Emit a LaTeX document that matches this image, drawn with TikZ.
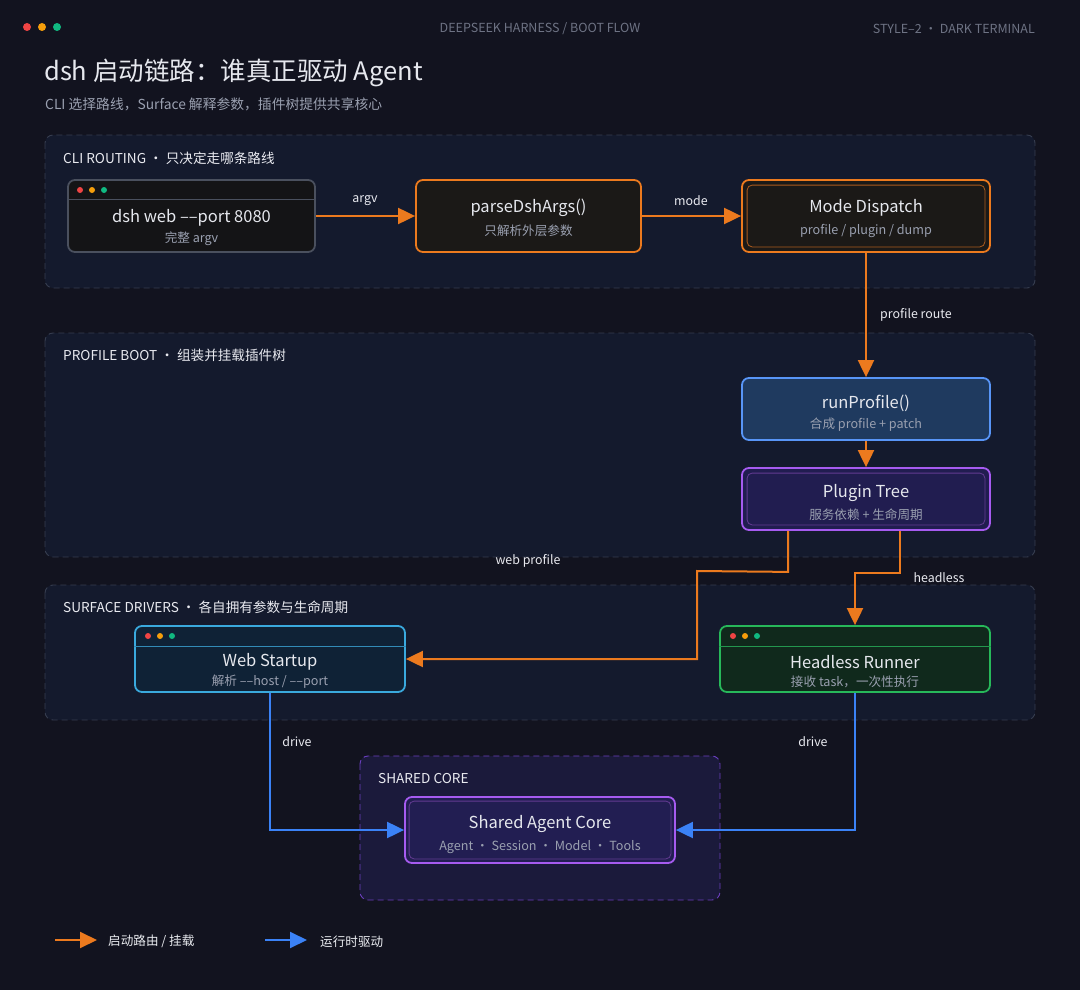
\documentclass[tikz,border=0pt]{standalone}
\usepackage{fontspec}
\setmainfont{Noto Sans CJK SC}
\usetikzlibrary{arrows.meta,calc}
\definecolor{bg}{HTML}{12131F}
\definecolor{grpfill}{HTML}{141A2D}
\definecolor{grpline}{HTML}{363D4F}
\definecolor{orng}{HTML}{EC7A1E}
\definecolor{blu}{HTML}{3B82F6}
\definecolor{purp}{HTML}{A65BF0}
\definecolor{cyanb}{HTML}{3AA9DD}
\definecolor{grn}{HTML}{27B85A}
\definecolor{txt}{HTML}{E6E8EE}
\definecolor{subt}{HTML}{9AA0B0}
\definecolor{dimt}{HTML}{6E7384}
\definecolor{dred}{HTML}{EF4444}
\definecolor{dyel}{HTML}{F59E0B}
\definecolor{dgrn}{HTML}{10B981}
\definecolor{rpfill}{HTML}{1F3A5F}
\definecolor{ptfill}{HTML}{211D50}
\definecolor{wsfill}{HTML}{0F2236}
\definecolor{hrfill}{HTML}{10291C}
\definecolor{scfill}{HTML}{221E52}
\definecolor{ofill}{HTML}{1B1917}
\definecolor{tfill}{HTML}{141416}
\definecolor{tline}{HTML}{4A505E}
\definecolor{corefill}{HTML}{1B1A3B}
\definecolor{coreline}{HTML}{6B3FC0}
\begin{document}
\begin{tikzpicture}[x=1pt,y=-1pt,
  grp/.style={draw=grpline,fill=grpfill,dash pattern=on 6pt off 4pt,line width=0.9pt,rounded corners=8pt},
  grplabel/.style={anchor=west,text=txt!90,font=\fontsize{13.6}{15}\selectfont,inner sep=0pt,yshift=-1.5pt},
  boxx/.style={rounded corners=7pt,line width=1.8pt,inner sep=0pt},
  ttl/.style={text=txt,font=\fontsize{16.5}{18}\selectfont,inner sep=0pt,yshift=-2pt},
  sub/.style={text=subt,font=\fontsize{12.6}{14}\selectfont,inner sep=0pt,yshift=-1.5pt},
  elab/.style={text=txt!90,font=\fontsize{12.4}{14}\selectfont,inner sep=0pt,yshift=-1.5pt},
  oarrow/.style={draw=orng,line width=2pt,-{Triangle[length=17pt,width=16pt]}},
  barrow/.style={draw=blu,line width=2pt,-{Triangle[length=17pt,width=16pt]}},
  dot/.style={circle,inner sep=0pt,minimum size=#1},
]
\fill[bg] (0,0) rectangle (1080,990);
\useasboundingbox (0,0) rectangle (1080,990);
% header
\node[dot=8pt,fill=dred] (h1) at (27,27) {};
\node[dot=8pt,fill=dyel] (h2) at (42,27) {};
\node[dot=8pt,fill=dgrn] (h3) at (57,27) {};
\node[text=dimt,font=\fontsize{12.5}{13}\selectfont,yshift=-1.5pt] (hc) at (540,27) {DEEPSEEK HARNESS / BOOT FLOW};
\node[text=dimt,font=\fontsize{12.5}{13}\selectfont,anchor=east,inner sep=0pt,yshift=-1.5pt] (hr0) at (1035,27) {STYLE–2 · DARK TERMINAL};
\node[anchor=west,inner sep=0pt,text=txt,font=\fontsize{25.5}{28}\selectfont,yshift=-3pt] (title) at (44,70) {dsh 启动链路：谁真正驱动 Agent};
\node[anchor=west,inner sep=0pt,text=subt,font=\fontsize{13.8}{15}\selectfont,yshift=-1.5pt] (subtitle) at (45,103) {CLI 选择路线，Surface 解释参数，插件树提供共享核心};
% groups
\draw[grp] (45,135) rectangle (1035,288);
\node[grplabel] (g1) at (63,157) {CLI ROUTING · 只决定走哪条路线};
\draw[grp] (45,333) rectangle (1035,557);
\node[grplabel] (g2) at (63,354) {PROFILE BOOT · 组装并挂载插件树};
\draw[grp] (45,585) rectangle (1035,720);
\node[grplabel] (g3) at (63,606) {SURFACE DRIVERS · 各自拥有参数与生命周期};
\draw[grp,draw=coreline,fill=corefill] (360,756) rectangle (720,900);
\node[grplabel] (g4) at (378,777) {SHARED CORE};
% dsh web terminal
\node[boxx,draw=tline,fill=tfill,minimum width=247pt,minimum height=72pt] (dsh) at (191.5,216) {};
\draw[tline,line width=0.8pt] (dsh.west |- 0,199) -- (dsh.east |- 0,199);
\node[dot=6pt,fill=dred] (d1) at (80,190) {};
\node[dot=6pt,fill=dyel] (d2) at (92,190) {};
\node[dot=6pt,fill=dgrn] (d3) at (104,190) {};
\node[ttl] (dsht) at (191.5,216) {dsh web ––port 8080};
\node[sub] (dshs) at (191.5,237) {完整 argv};
% parseDshArgs
\node[boxx,draw=orng,fill=ofill,minimum width=225pt,minimum height=72pt] (pa) at (528.5,216) {};
\node[ttl] (pat) at (528.5,206) {parseDshArgs()};
\node[sub] (pas) at (528.5,229) {只解析外层参数};
% Mode Dispatch
\node[boxx,draw=orng,fill=ofill,minimum width=248pt,minimum height=72pt] (md) at (866,216) {};
\draw[orng!70!bg,line width=0.8pt,rounded corners=5pt] ($(md.north west)+(6,6)$) rectangle ($(md.south east)+(-6,-6)$);
\node[ttl] (mdt) at (866,206) {Mode Dispatch};
\node[sub] (mds) at (866,229) {profile / plugin / dump};
% runProfile
\node[boxx,draw=blu!85!white,fill=rpfill,minimum width=248pt,minimum height=62pt] (rp) at (866,409) {};
\node[ttl] (rpt) at (866,401) {runProfile()};
\node[sub] (rps) at (866,423) {合成 profile + patch};
% Plugin Tree
\node[boxx,draw=purp,fill=ptfill,minimum width=248pt,minimum height=62pt] (pt) at (866,499) {};
\draw[purp!55!bg,line width=0.8pt,rounded corners=5pt] ($(pt.north west)+(6,6)$) rectangle ($(pt.south east)+(-6,-6)$);
\node[ttl] (ptt) at (866,491) {Plugin Tree};
\node[sub] (pts) at (866,513) {服务依赖 + 生命周期};
% Web Startup
\node[boxx,draw=cyanb,fill=wsfill,minimum width=270pt,minimum height=66pt] (ws) at (270,659) {};
\draw[cyanb!80!bg,line width=0.8pt] (ws.west |- 0,646) -- (ws.east |- 0,646);
\node[dot=6pt,fill=dred] (w1) at (148,636) {};
\node[dot=6pt,fill=dyel] (w2) at (160,636) {};
\node[dot=6pt,fill=dgrn] (w3) at (172,636) {};
\node[ttl] (wst) at (270,660) {Web Startup};
\node[sub] (wss) at (270,680) {解析 ––host / ––port};
% Headless Runner
\node[boxx,draw=grn,fill=hrfill,minimum width=270pt,minimum height=66pt] (hr) at (855,659) {};
\draw[grn!80!bg,line width=0.8pt] (hr.west |- 0,646) -- (hr.east |- 0,646);
\node[dot=6pt,fill=dred] (r1) at (733,636) {};
\node[dot=6pt,fill=dyel] (r2) at (745,636) {};
\node[dot=6pt,fill=dgrn] (r3) at (757,636) {};
\node[ttl] (hrt) at (855,660) {Headless Runner};
\node[sub] (hrs) at (855,680) {接收 task，一次性执行};
% Shared Agent Core
\node[boxx,draw=purp,fill=scfill,minimum width=270pt,minimum height=66pt] (sc) at (540,830) {};
\draw[purp!55!bg,line width=0.8pt,rounded corners=5pt] ($(sc.north west)+(5,5)$) rectangle ($(sc.south east)+(-5,-5)$);
\node[ttl] (sct) at (540,822) {Shared Agent Core};
\node[sub] (scs) at (540,846) {Agent · Session · Model · Tools};
% connectors
\draw[oarrow] (dsh.east) -- (pa.west);
\node[elab] (l1) at (365,199) {argv};
\draw[oarrow] (pa.east) -- (md.west);
\node[elab] (l2) at (691,199) {mode};
\draw[oarrow] (md.south) -- (rp.north);
\node[elab,anchor=west] (l3) at (880,313) {profile route};
\draw[oarrow] (rp.south) -- (pt.north);
\draw[oarrow] ([xshift=-78pt]pt.south) -- ++(0,41) -- (697,571) |- (ws.east);
\node[elab] (l4) at (528,559) {web profile};
\draw[oarrow] ([xshift=34pt]pt.south) -- ++(0,42) -| (hr.north);
\node[elab] (l5) at (939,576) {headless};
\draw[barrow] (ws.south) |- (sc.west);
\node[elab] (l6) at (297,740) {drive};
\draw[barrow] (hr.south) |- (sc.east);
\node[elab] (l7) at (813,740) {drive};
% legend
\coordinate (lo1) at (55,940);
\coordinate (lo2) at (97,940);
\draw[oarrow] (lo1) -- (lo2);
\node[sub,anchor=west,text=txt!80] (lt1) at (108,940) {启动路由 / 挂载};
\coordinate (lb1) at (265,940);
\coordinate (lb2) at (307,940);
\draw[barrow] (lb1) -- (lb2);
\node[sub,anchor=west,text=txt!80] (lt2) at (320,940) {运行时驱动};
\end{tikzpicture}
\end{document}
